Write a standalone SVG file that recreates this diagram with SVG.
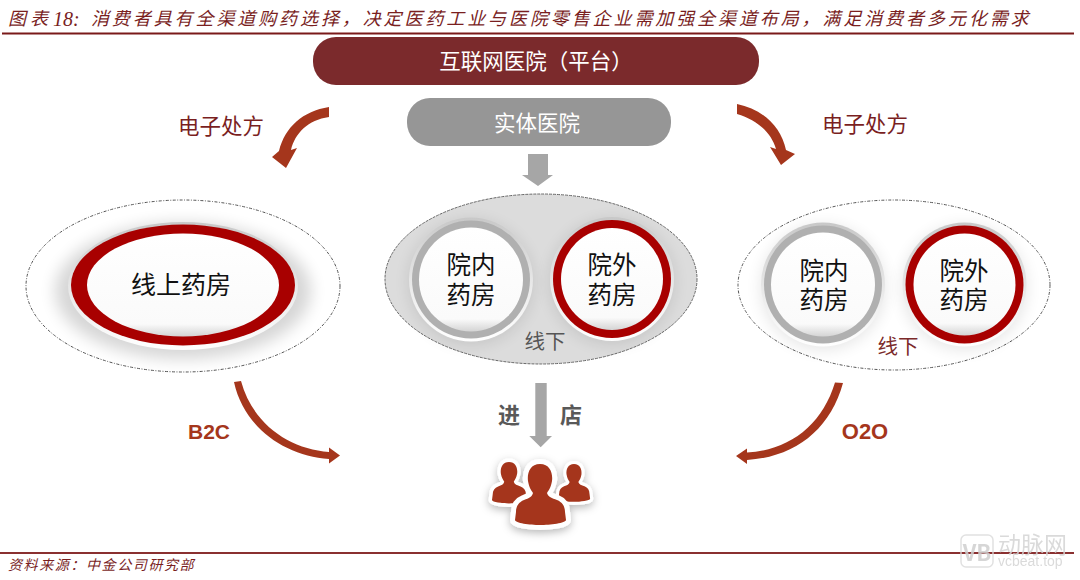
<svg xmlns="http://www.w3.org/2000/svg" xmlns:xlink="http://www.w3.org/1999/xlink" width="1080" height="580" viewBox="0 0 1080 580">
<style>
text{font-family:"Noto Sans CJK SC","Liberation Sans",sans-serif;text-anchor:middle;dominant-baseline:central}
.cap{font-family:"Liberation Serif","Noto Sans CJK SC",serif;font-style:italic;fill:#7a1f1f;text-anchor:start}
.w{fill:#fff;font-size:21.5px}
.ep{fill:#7a1f1f;font-size:21.5px}
.k{fill:#111;font-size:24.500px;dominant-baseline:auto}
.arrow{fill:#a5361c}
.dash{fill:none;stroke:#555;stroke-width:1;stroke-dasharray:3 1.5 1 1.5}
.en{font-family:"Liberation Sans",sans-serif;font-weight:700;fill:#a5361c}
.in{fill:#595959;font-size:22px;font-weight:700}
.person{fill:#a5361c;stroke:#fff;stroke-width:10;paint-order:stroke;stroke-linejoin:round}
.wm{fill:#d4d4d4;text-anchor:start;dominant-baseline:auto}
</style>
<defs>
<linearGradient id="rim" x1="0" y1="0" x2="0" y2="1"><stop offset="0" stop-color="#c8c8c8"/><stop offset=".6" stop-color="#ececec"/><stop offset="1" stop-color="#fff"/></linearGradient>
<linearGradient id="face" x1="0" y1="0" x2="0" y2="1"><stop offset="0" stop-color="#fff"/><stop offset=".88" stop-color="#fafafa"/><stop offset="1" stop-color="#d4d4d4"/></linearGradient>
<filter id="soft" x="-30%" y="-30%" width="160%" height="170%"><feGaussianBlur stdDeviation="8"/></filter>
<filter id="shadow" x="-30%" y="-30%" width="160%" height="160%"><feDropShadow dx="0" dy="3" stdDeviation="4" flood-color="#000" flood-opacity=".28"/></filter>
<path id="figure" d="M540,464C550,464 553,473 552,481C551,487 549,490 547,493C548,497 552,498 557,500C562,502 565,506 565,512L566,520C566,523 550,525 540,525C530,525 515,523 515,520L516,512C516,506 519,502 524,500C529,498 532,497 533,493C531,490 529,487 528,481C527,473 530,464 540,464Z"/>
<g id="badge-gray">
<circle r="62" fill="#000" opacity=".1" filter="url(#soft)" cy="3"/>
<circle r="62" fill="url(#rim)"/>
<circle r="59" fill="#b0b0b0"/>
<circle r="52" fill="url(#face)"/>
</g>
<g id="badge-red">
<circle r="62" fill="#000" opacity=".1" filter="url(#soft)" cy="3"/>
<circle r="62" fill="url(#rim)"/>
<circle r="59" fill="#a80000"/>
<circle r="51" fill="url(#face)"/>
</g>
</defs>
<rect width="1080" height="580" fill="#fff"/>

<g id="caption">
<text class="cap" x="8" y="19" font-size="18" letter-spacing="4">图表</text>
<text class="cap" x="53" y="19" font-size="20">18:</text>
<text class="cap" x="91" y="19" font-size="18" letter-spacing="2.900">消费者具有全渠道购药选择，决定医药工业与医院零售企业需加强全渠道布局，满足消费者多元化需求</text>
<rect x="2" y="32.500" width="1072" height="2" fill="#7a1a1a"/>
</g>

<g id="node-internet-hospital">
<rect x="313" y="37" width="446" height="48" rx="23" fill="#7b2a2c"/>
<text class="w" x="536" y="59.500">互联网医院（平台）</text>
</g>

<g id="node-hospital">
<rect x="407" y="98" width="264" height="48" rx="23" fill="#969696"/>
<text class="w" x="537" y="121.500">实体医院</text>
</g>

<g id="node-online">
<ellipse class="dash" cx="183" cy="286" rx="157" ry="86"/>
<ellipse cx="183" cy="291" rx="128" ry="68" fill="#000" opacity=".16" filter="url(#soft)"/>
<ellipse cx="183" cy="286" rx="115" ry="64" fill="url(#rim)"/>
<ellipse cx="183" cy="285" rx="112" ry="60.500" fill="#a80000"/>
<ellipse cx="183" cy="285" rx="96" ry="51.500" fill="url(#face)"/>
<text class="k" x="181" y="283" font-size="25" style="font-size:25px;dominant-baseline:central">线上药房</text>
</g>

<g id="node-offline-mid">
<ellipse cx="541" cy="279" rx="156" ry="85" fill="#dcdcdc" stroke="#666" stroke-width="1" stroke-dasharray="3 1"/>
<use xlink:href="#badge-gray" href="#badge-gray" x="471" y="279.500"/>
<use xlink:href="#badge-red" href="#badge-red" x="612" y="279"/>
<text class="k"><tspan x="471" y="274">院内</tspan><tspan x="471" y="303.500">药房</tspan></text>
<text class="k"><tspan x="612" y="274">院外</tspan><tspan x="612" y="303.500">药房</tspan></text>
<text x="545" y="340" font-size="20.500" fill="#555">线下</text>
</g>

<g id="node-offline-right">
<ellipse class="dash" cx="894" cy="285" rx="156" ry="85"/>
<use xlink:href="#badge-gray" href="#badge-gray" x="823" y="284.500"/>
<use xlink:href="#badge-red" href="#badge-red" x="964.500" y="284.500"/>
<text class="k"><tspan x="824" y="280">院内</tspan><tspan x="824" y="309">药房</tspan></text>
<text class="k"><tspan x="964" y="280">院外</tspan><tspan x="964" y="309">药房</tspan></text>
<text x="898" y="345" font-size="20.500" fill="#7b2a2a">线下</text>
</g>

<g id="node-customers">
<g filter="url(#shadow)">
<use class="person" xlink:href="#figure" href="#figure" transform="translate(574,464) scale(.62) translate(-540,-464)"/>
<use class="person" xlink:href="#figure" href="#figure" transform="translate(509,462) scale(.68) translate(-540,-464)"/>
<use class="person" xlink:href="#figure" href="#figure"/>
</g>
</g>

<g id="connectors">
<path class="arrow" d="M329,107C303,111 285,127 279,151L272,157L286,168L297,148L291,150C295,133 308,120 329,117Z"/>
<path class="arrow" d="M737,104C762,109 781,126 786,150L795,154L781,165L770,147L776,149C771,132 757,120 737,114Z"/>
<path fill="#a6a6a6" d="M528,154H548V175H553L538,186L522,175H528Z"/>
<path fill="#a6a6a6" d="M535.300,383H546.700V436H552L540.700,447.300L529.300,436H535.300Z"/>
<path class="arrow" d="M234,382C244,428 285,456 329,459L329,463.500L340,455.500L329,447.500L329,452C290,449 253,425 241,381Z"/>
<path class="arrow" d="M835,382.500C822,425 790,450 747,452.500L747,448.500L736,456L747,464L747,460C795,457 830,430 843,383Z"/>
</g>

<g id="labels">
<text class="ep" x="221" y="124">电子处方</text>
<text class="ep" x="865" y="122">电子处方</text>
<text class="in" x="509" y="413">进</text>
<text class="in" x="571" y="413">店</text>
<text class="en" x="209" y="431" font-size="21">B2C</text>
<text class="en" x="865" y="431" font-size="22">O2O</text>
</g>

<g id="footer">
<rect x="0" y="552" width="1074" height="2" fill="#8a3030"/>
<text class="cap" x="8" y="565" font-size="14" letter-spacing="1.600">资料来源：中金公司研究部</text>
</g>

<g id="watermark" opacity=".85">
<rect x="961" y="535" width="32" height="32" rx="5" fill="none" stroke="#dcdcdc" stroke-width="1.500"/>
<text x="977" y="551" font-size="22" font-weight="700" fill="#d0d0d0" font-family="Liberation Sans">VB</text>
<text class="wm" x="998" y="553" font-size="23"><tspan x="998" y="553">动脉网</tspan><tspan x="998" y="566" font-size="14" font-family="Liberation Sans">vcbeat.top</tspan></text>
</g>
</svg>
